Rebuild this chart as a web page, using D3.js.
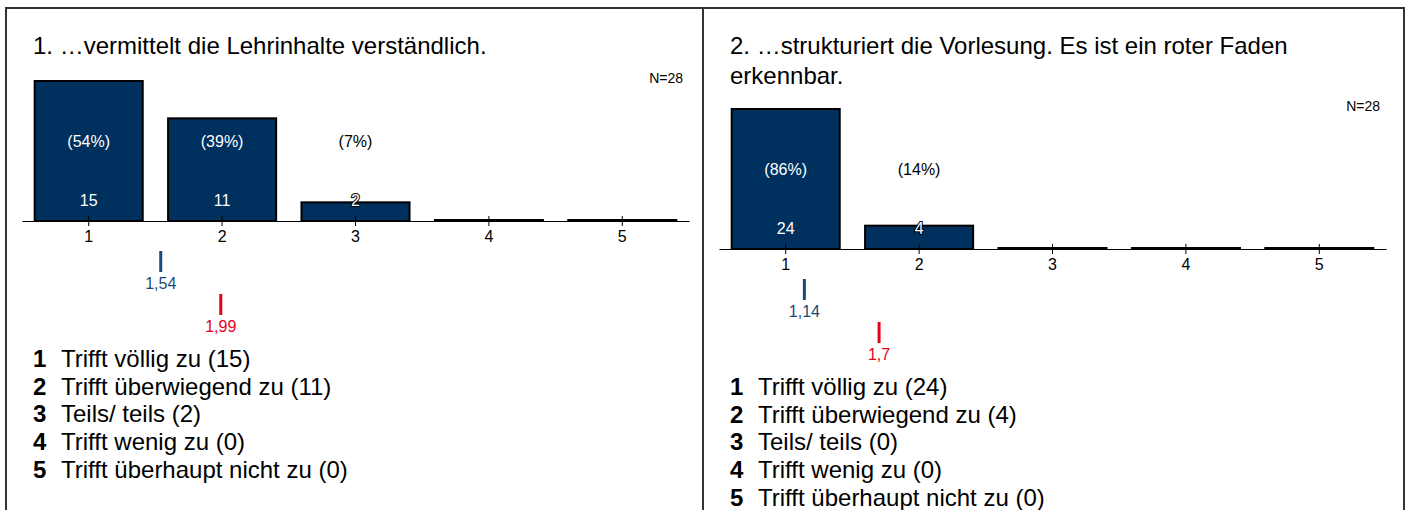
<!DOCTYPE html>
<html>
<head>
<meta charset="utf-8">
<script src="https://cdn.jsdelivr.net/npm/d3@7"></script>
<style>
    body { margin: 0; background: #fff; }
    svg text { font-family: "Liberation Sans", Arial, sans-serif; }
</style>
</head>
<body>
<div id="plot"></div>
<script>
var width = 1406;
var height = 510;

// Data
var categories = [1, 2, 3, 4, 5];
var answerLabels = ["Trifft völlig zu", "Trifft überwiegend zu", "Teils/ teils", "Trifft wenig zu", "Trifft überhaupt nicht zu"];

var titles1 = ["1. …vermittelt die Lehrinhalte verständlich."];
var counts1 = [15, 11, 2, 0, 0];
var percents1 = [54, 39, 7, 0, 0];
var n1 = 28;
var mean1 = 1.54;
var refMean1 = 1.99;

var titles2 = ["2. …strukturiert die Vorlesung. Es ist ein roter Faden", "erkennbar."];
var counts2 = [24, 4, 0, 0, 0];
var percents2 = [86, 14, 0, 0, 0];
var n2 = 28;
var mean2 = 1.14;
var refMean2 = 1.7;

var BAR_COLOR = "#00305e";
var MEAN_COLOR = "#1b4a7a";
var REF_COLOR = "#e2001a";
var BAR_HEIGHT = 140;
var TITLE_LINE = 30;
var BIG_FONT = 24;
var SMALL_FONT = 16;

var svg = d3.select("#plot").append("svg")
    .attr("width", width)
    .attr("height", height);

svg.append("rect").attr("width", width).attr("height", height).attr("fill", "#fff");

drawPanel(6, 697, titles1, counts1, percents1, n1, mean1, refMean1);
drawPanel(703, 701, titles2, counts2, percents2, n2, mean2, refMean2);

function fmt(v) {
    return String(v).replace(".", ",");
}

function drawPanel(x0, panelWidth, titles, counts, percents, n, mean, refMean) {
    var g = svg.append("g").attr("transform", "translate(" + x0 + ",0)");

    // frame (open at the bottom, runs off the page)
    g.append("path")
        .attr("d", "M0," + (height + 5) + "V8H" + panelWidth + "V" + (height + 5))
        .attr("fill", "none")
        .attr("stroke", "#333")
        .attr("stroke-width", 2);

    titles.forEach(function(t, i) {
        g.append("text")
            .attr("x", 27)
            .attr("y", 54 + i * TITLE_LINE)
            .attr("font-size", BIG_FONT)
            .attr("fill", "#000")
            .text(t);
    });

    var axisY = 221 + (titles.length - 1) * 28;

    var x = d3.scaleBand().domain(categories).range([16, 683])
        .paddingInner(0.19).paddingOuter(0.095);
    var y = d3.scaleLinear().domain([0, d3.max(counts)]).range([axisY, axisY - BAR_HEIGHT]);
    var meanX = d3.scaleLinear().domain([1, 5])
        .range([x(1) + x.bandwidth() / 2, x(5) + x.bandwidth() / 2]);

    g.append("text")
        .attr("x", 677)
        .attr("y", axisY - 138)
        .attr("text-anchor", "end")
        .attr("font-size", 14)
        .text("N=" + n);

    var rows = categories.map(function(c, i) {
        return { cat: c, count: counts[i], pct: percents[i] };
    });

    g.selectAll("rect.bar").data(rows).enter().append("rect")
        .attr("class", "bar")
        .attr("x", function(d) { return x(d.cat); })
        .attr("y", function(d) { return Math.min(y(d.count), axisY - 1); })
        .attr("width", x.bandwidth())
        .attr("height", function(d) { return Math.max(axisY - y(d.count), 1); })
        .attr("fill", BAR_COLOR)
        .attr("stroke", "#000")
        .attr("stroke-width", 2);

    // axis with ticks crossing the line
    var axis = g.append("g")
        .attr("transform", "translate(0," + axisY + ")")
        .call(d3.axisBottom(x).tickSizeOuter(0).tickSizeInner(4));
    axis.select(".domain").attr("stroke", "#000");
    axis.selectAll(".tick line").attr("y1", -5).attr("y2", 5).attr("stroke", "#000");
    axis.selectAll(".tick text")
        .attr("y", 10)
        .attr("font-size", SMALL_FONT)
        .attr("font-family", "Liberation Sans, Arial, sans-serif")
        .attr("fill", "#000");

    var shown = rows.filter(function(d) { return d.count > 0; });
    var pctY = axisY - 74;
    var cntY = axisY - 15;

    g.selectAll("text.pct").data(shown).enter().append("text")
        .attr("class", "pct")
        .attr("x", function(d) { return x(d.cat) + x.bandwidth() / 2; })
        .attr("y", pctY)
        .attr("text-anchor", "middle")
        .attr("font-size", SMALL_FONT)
        .attr("fill", function(d) { return y(d.count) < pctY - 16 ? "#fff" : "#000"; })
        .text(function(d) { return "(" + d.pct + "%)"; });

    g.selectAll("text.cnt").data(shown).enter().append("text")
        .attr("class", "cnt")
        .attr("x", function(d) { return x(d.cat) + x.bandwidth() / 2; })
        .attr("y", cntY)
        .attr("text-anchor", "middle")
        .attr("font-size", SMALL_FONT)
        .attr("fill", "#fff")
        .attr("stroke", function(d) { return y(d.count) < cntY - 16 ? "none" : "#000"; })
        .attr("stroke-width", 2)
        .attr("paint-order", "stroke")
        .text(function(d) { return d.count; });

    // mean markers: own mean in blue, comparison mean in red
    [[mean, MEAN_COLOR, 30], [refMean, REF_COLOR, 73]].forEach(function(m) {
        var mx = meanX(m[0]);
        g.append("line")
            .attr("x1", mx).attr("x2", mx)
            .attr("y1", axisY + m[2]).attr("y2", axisY + m[2] + 21)
            .attr("stroke", m[1])
            .attr("stroke-width", 3);
        g.append("text")
            .attr("x", mx)
            .attr("y", axisY + m[2] + 38)
            .attr("text-anchor", "middle")
            .attr("font-size", SMALL_FONT)
            .attr("fill", m[1])
            .text(fmt(m[0]));
    });

    // legend
    var legendY = axisY + 146;
    categories.forEach(function(c, i) {
        var ly = legendY + i * 27.7;
        g.append("text")
            .attr("x", 27)
            .attr("y", ly)
            .attr("font-size", BIG_FONT)
            .attr("font-weight", "bold")
            .text(c);
        g.append("text")
            .attr("x", 55)
            .attr("y", ly)
            .attr("font-size", BIG_FONT)
            .text(answerLabels[i] + " (" + counts[i] + ")");
    });
}
</script>
</body>
</html>
